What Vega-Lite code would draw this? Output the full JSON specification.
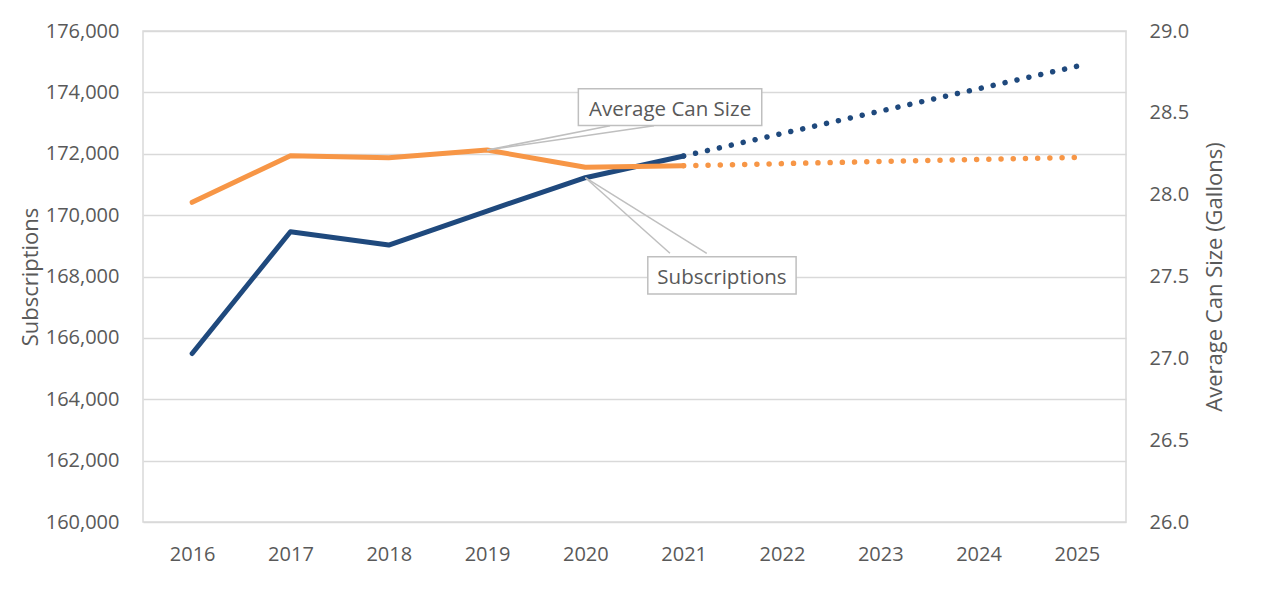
{
  "$schema": "https://vega.github.io/schema/vega-lite/v6.json",
  "width": 983,
  "height": 491,
  "autosize": {"type": "none"},
  "padding": {"left": 143, "top": 31, "right": 145, "bottom": 67},
  "background": "white",
  "config": {
    "font": "Open Sans",
    "view": {"stroke": "#d9d9d9", "strokeWidth": 1.5},
    "axis": {
      "labelFont": "Open Sans",
      "titleFont": "Open Sans",
      "labelColor": "#595959",
      "titleColor": "#595959",
      "labelFontSize": 20,
      "titleFontSize": 22,
      "titleFontWeight": "normal",
      "ticks": false,
      "domain": false,
      "gridColor": "#d9d9d9",
      "gridWidth": 1.5
    }
  },
  "datasets": {
    "subs": [
      {"year": 2016, "value": 165490},
      {"year": 2017, "value": 169460},
      {"year": 2018, "value": 169026},
      {"year": 2019, "value": 170134},
      {"year": 2020, "value": 171220},
      {"year": 2021, "value": 171927}
    ],
    "subsForecast": [
      {"year": 2021, "value": 171927},
      {"year": 2025, "value": 174850}
    ],
    "can": [
      {"year": 2016, "value": 27.953},
      {"year": 2017, "value": 28.238},
      {"year": 2018, "value": 28.226},
      {"year": 2019, "value": 28.273},
      {"year": 2020, "value": 28.167},
      {"year": 2021, "value": 28.177}
    ],
    "canForecast": [
      {"year": 2021, "value": 28.177},
      {"year": 2025, "value": 28.228}
    ]
  },
  "layer": [
    {
      "layer": [
        {
          "data": {"name": "subs"},
          "mark": {"type": "line", "color": "#1F497D", "strokeWidth": 5, "strokeCap": "round", "strokeJoin": "round"},
          "encoding": {
            "x": {
              "field": "year", "type": "quantitative",
              "scale": {"domain": [2015.5, 2025.5], "nice": false, "zero": false},
              "axis": {"values": [2016, 2017, 2018, 2019, 2020, 2021, 2022, 2023, 2024, 2025], "format": "d", "grid": false, "labelPadding": 22, "title": null, "labelColor": "#595959"}
            },
            "y": {
              "field": "value", "type": "quantitative",
              "scale": {"domain": [160000, 176000], "nice": false, "zero": false},
              "axis": {"values": [160000, 162000, 164000, 166000, 168000, 170000, 172000, 174000, 176000], "format": ",d", "grid": true, "labelPadding": 24, "title": "Subscriptions", "titlePadding": 3, "titleColor": "#595959", "labelColor": "#595959"}
            }
          }
        },
        {
          "data": {"name": "subsForecast"},
          "mark": {"type": "line", "color": "#1F497D", "strokeWidth": 5.5, "strokeCap": "round", "strokeDash": [0.01, 12.2]},
          "encoding": {
            "x": {"field": "year", "type": "quantitative"},
            "y": {"field": "value", "type": "quantitative"}
          }
        },
        {
          "data": {"name": "subs"},
          "transform": [{"filter": "datum.year == 2020"}],
          "mark": {"type": "rule", "color": "#bfbfbf", "strokeWidth": 1.5, "x2Offset": 84.6, "y2Offset": 75.6},
          "encoding": {
            "x": {"field": "year", "type": "quantitative"},
            "x2": {"field": "year"},
            "y": {"field": "value", "type": "quantitative"},
            "y2": {"field": "value"}
          }
        },
        {
          "data": {"name": "subs"},
          "transform": [{"filter": "datum.year == 2020"}],
          "mark": {"type": "rule", "color": "#bfbfbf", "strokeWidth": 1.5, "x2Offset": 121.4, "y2Offset": 75.6},
          "encoding": {
            "x": {"field": "year", "type": "quantitative"},
            "x2": {"field": "year"},
            "y": {"field": "value", "type": "quantitative"},
            "y2": {"field": "value"}
          }
        },
        {
          "data": {"name": "subs"},
          "transform": [{"filter": "datum.year == 2020"}],
          "mark": {"type": "point", "shape": "M-1,-0.2515H1V0.2515H-1Z", "size": 21993, "filled": true, "fill": "white", "stroke": "#bfbfbf", "strokeWidth": 1.5, "opacity": 1, "fillOpacity": 1, "xOffset": 136.6, "yOffset": 97.6},
          "encoding": {
            "x": {"field": "year", "type": "quantitative"},
            "y": {"field": "value", "type": "quantitative"}
          }
        },
        {
          "data": {"name": "subs"},
          "transform": [{"filter": "datum.year == 2020"}],
          "mark": {"type": "text", "text": "Subscriptions", "font": "Open Sans", "fontSize": 20.5, "color": "#595959", "align": "center", "baseline": "alphabetic", "dx": 136.6, "dy": 106.3},
          "encoding": {
            "x": {"field": "year", "type": "quantitative"},
            "y": {"field": "value", "type": "quantitative"}
          }
        }
      ]
    },
    {
      "layer": [
        {
          "data": {"name": "can"},
          "mark": {"type": "line", "color": "#F79646", "strokeWidth": 5, "strokeCap": "round", "strokeJoin": "round"},
          "encoding": {
            "x": {"field": "year", "type": "quantitative"},
            "y": {
              "field": "value", "type": "quantitative",
              "scale": {"domain": [26, 29], "nice": false, "zero": false},
              "axis": {"orient": "right", "values": [26, 26.5, 27, 27.5, 28, 28.5, 29], "format": ".1f", "grid": false, "labelPadding": 23, "title": "Average Can Size (Gallons)", "titleAngle": 270, "titleBaseline": "top", "titlePadding": 16, "titleColor": "#595959", "labelColor": "#595959"}
            }
          }
        },
        {
          "data": {"name": "canForecast"},
          "mark": {"type": "line", "color": "#F79646", "strokeWidth": 5.5, "strokeCap": "round", "strokeDash": [0.01, 12.2]},
          "encoding": {
            "x": {"field": "year", "type": "quantitative"},
            "y": {"field": "value", "type": "quantitative"}
          }
        },
        {
          "data": {"name": "can"},
          "transform": [{"filter": "datum.year == 2019"}],
          "mark": {"type": "rule", "color": "#bfbfbf", "strokeWidth": 1.5, "x2Offset": 123, "y2Offset": -24.2},
          "encoding": {
            "x": {"field": "year", "type": "quantitative"},
            "x2": {"field": "year"},
            "y": {"field": "value", "type": "quantitative"},
            "y2": {"field": "value"}
          }
        },
        {
          "data": {"name": "can"},
          "transform": [{"filter": "datum.year == 2019"}],
          "mark": {"type": "rule", "color": "#bfbfbf", "strokeWidth": 1.5, "x2Offset": 167, "y2Offset": -24.2},
          "encoding": {
            "x": {"field": "year", "type": "quantitative"},
            "x2": {"field": "year"},
            "y": {"field": "value", "type": "quantitative"},
            "y2": {"field": "value"}
          }
        },
        {
          "data": {"name": "can"},
          "transform": [{"filter": "datum.year == 2019"}],
          "mark": {"type": "point", "shape": "M-1,-0.2H1V0.2H-1Z", "size": 33636, "filled": true, "fill": "white", "stroke": "#bfbfbf", "strokeWidth": 1.5, "opacity": 1, "fillOpacity": 1, "xOffset": 183, "yOffset": -42.8},
          "encoding": {
            "x": {"field": "year", "type": "quantitative"},
            "y": {"field": "value", "type": "quantitative"}
          }
        },
        {
          "data": {"name": "can"},
          "transform": [{"filter": "datum.year == 2019"}],
          "mark": {"type": "text", "text": "Average Can Size", "font": "Open Sans", "fontSize": 20.5, "color": "#595959", "align": "center", "baseline": "alphabetic", "dx": 183, "dy": -34.2},
          "encoding": {
            "x": {"field": "year", "type": "quantitative"},
            "y": {"field": "value", "type": "quantitative"}
          }
        }
      ]
    }
  ],
  "resolve": {"scale": {"y": "independent"}}
}
